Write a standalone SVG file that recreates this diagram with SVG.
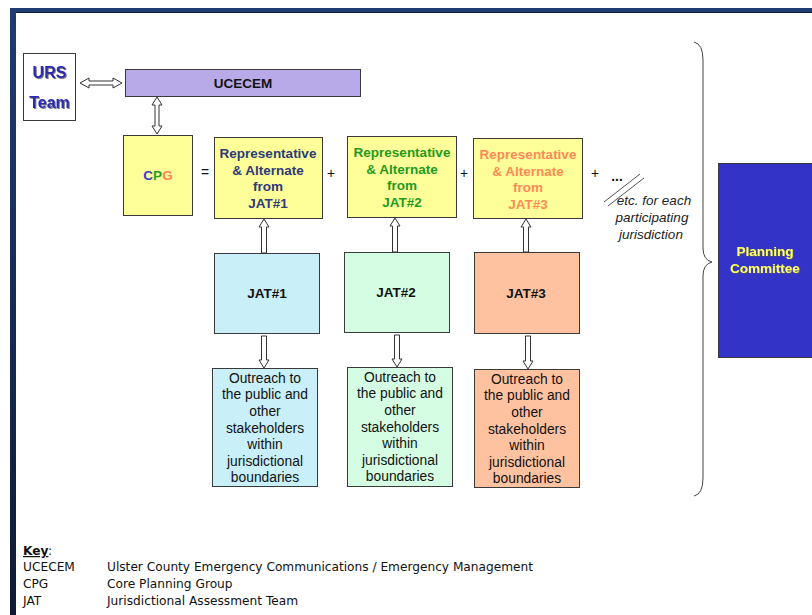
<svg xmlns="http://www.w3.org/2000/svg" width="812" height="615" viewBox="0 0 812 615">
<style>
.box{stroke:#3a3a3a;stroke-width:1}
.b{font-family:"Liberation Sans",Arial,sans-serif;font-weight:bold;font-size:13.5px;text-anchor:middle}
.n{font-family:"Liberation Sans",Arial,sans-serif;font-size:13.8px;text-anchor:middle;fill:#111}
.it{font-family:"Liberation Sans",Arial,sans-serif;font-style:italic;font-size:13.5px;text-anchor:middle;fill:#222}
.k{font-family:"DejaVu Sans",Tahoma,sans-serif;font-size:12.2px;fill:#111}
.arr{fill:#fff;stroke:#333;stroke-width:1}
</style>
<defs>
<filter id="sh" x="-10%" y="-10%" width="130%" height="140%"><feDropShadow dx="1" dy="1" stdDeviation="0.4" flood-color="#555" flood-opacity="0.8"/></filter>
<linearGradient id="lb" x1="0" y1="0" x2="0" y2="1"><stop offset="0" stop-color="#1f3c73"/><stop offset="1" stop-color="#0e1a35"/></linearGradient>
</defs>
<rect width="812" height="615" fill="#fff"/>
<!-- frame -->
<rect x="10" y="8" width="802" height="5" fill="#1f3c73"/>
<line x1="16" y1="12.5" x2="812" y2="12.5" stroke="#0f1f40" stroke-width="1"/>
<rect x="10" y="8" width="6" height="607" fill="url(#lb)"/>

<g id="urs">
<rect class="box" x="23.5" y="53.5" width="52" height="67" fill="#fff"/>
<text class="b" x="49.5" y="78" style="font-size:16px;fill:#2a2ab0" filter="url(#sh)">URS</text>
<text class="b" x="49.5" y="108" style="font-size:16px;fill:#2a2ab0" filter="url(#sh)">Team</text>
</g>
<g id="ucecem">
<rect class="box" x="125.5" y="69.5" width="235" height="27" fill="#b8a9e8"/>
<text class="b" x="243" y="88" fill="#111">UCECEM</text>
</g>
<g id="cpg">
<rect class="box" x="123.5" y="135.5" width="69" height="80" fill="#ffff99"/>
<text class="b" x="158" y="180"><tspan fill="#3a3acc">C</tspan><tspan fill="#2a9a2a">P</tspan><tspan fill="#ff8050">G</tspan></text>
</g>
<g id="rep1">
<rect class="box" x="214.5" y="137.5" width="108" height="81" fill="#ffff99"/>
<text class="b" fill="#2e3a7a"><tspan x="268" y="158">Representative</tspan><tspan x="268" y="175">&amp; Alternate</tspan><tspan x="268" y="191">from</tspan><tspan x="268" y="208">JAT#1</tspan></text>
</g>
<g id="rep2">
<rect class="box" x="347.5" y="136.5" width="109" height="81" fill="#ffff99"/>
<text class="b" fill="#1f9a1f"><tspan x="402" y="157">Representative</tspan><tspan x="402" y="174">&amp; Alternate</tspan><tspan x="402" y="190">from</tspan><tspan x="402" y="207">JAT#2</tspan></text>
</g>
<g id="rep3">
<rect class="box" x="473.5" y="138.5" width="109" height="80" fill="#ffff99"/>
<text class="b" fill="#ff8a55"><tspan x="528" y="159">Representative</tspan><tspan x="528" y="176">&amp; Alternate</tspan><tspan x="528" y="192">from</tspan><tspan x="528" y="209">JAT#3</tspan></text>
</g>
<g id="ops">
<text class="n" x="205" y="177">=</text>
<text class="n" x="331" y="178">+</text>
<text class="n" x="464" y="178">+</text>
<text class="n" x="595" y="178">+</text>
<text class="n" x="617" y="181" style="font-weight:bold">...</text>
<line x1="604" y1="202" x2="640" y2="174" stroke="#555" stroke-width="1"/>
<line x1="608" y1="206" x2="644" y2="178" stroke="#555" stroke-width="1"/>
<text class="it"><tspan x="654" y="205">etc. for each</tspan><tspan x="652" y="222">participating</tspan><tspan x="651" y="239">jurisdiction</tspan></text>
</g>
<g id="jat1">
<rect class="box" x="214.5" y="253.5" width="105" height="80" fill="#c9eff9"/>
<text class="b" x="267" y="298" fill="#111">JAT#1</text>
</g>
<g id="jat2">
<rect class="box" x="344.5" y="252.5" width="105" height="80" fill="#d4fde4"/>
<text class="b" x="396" y="297" fill="#111">JAT#2</text>
</g>
<g id="jat3">
<rect class="box" x="474.5" y="252.5" width="105" height="81" fill="#ffc2a0"/>
<text class="b" x="526" y="298" fill="#111">JAT#3</text>
</g>
<g id="out1">
<rect class="box" x="212.5" y="368.5" width="105" height="118" fill="#c9eff9"/>
<text class="n"><tspan x="265" y="383">Outreach  to</tspan><tspan x="265" y="399">the public and</tspan><tspan x="265" y="416">other</tspan><tspan x="265" y="433">stakeholders</tspan><tspan x="265" y="449">within</tspan><tspan x="265" y="466">jurisdictional</tspan><tspan x="265" y="482">boundaries</tspan></text>
</g>
<g id="out2">
<rect class="box" x="347.5" y="367.5" width="105" height="119" fill="#d4fde4"/>
<text class="n"><tspan x="400" y="382">Outreach  to</tspan><tspan x="400" y="398">the public and</tspan><tspan x="400" y="415">other</tspan><tspan x="400" y="432">stakeholders</tspan><tspan x="400" y="448">within</tspan><tspan x="400" y="465">jurisdictional</tspan><tspan x="400" y="481">boundaries</tspan></text>
</g>
<g id="out3">
<rect class="box" x="474.5" y="369.5" width="105" height="118" fill="#ffc2a0"/>
<text class="n"><tspan x="527" y="384">Outreach  to</tspan><tspan x="527" y="400">the public and</tspan><tspan x="527" y="417">other</tspan><tspan x="527" y="434">stakeholders</tspan><tspan x="527" y="450">within</tspan><tspan x="527" y="467">jurisdictional</tspan><tspan x="527" y="483">boundaries</tspan></text>
</g>
<g id="planning">
<rect class="box" x="718.5" y="163.5" width="100" height="194" fill="#3333c8"/>
<text class="b" fill="#ffff66" filter="url(#sh)"><tspan x="765" y="256">Planning</tspan><tspan x="765" y="273">Committee</tspan></text>
</g>
<g id="connectors">
<path class="arr" d="M80,83 L89,78 L89,81 L113,81 L113,78 L122,83 L113,88 L113,85 L89,85 L89,88 Z"/>
<path class="arr" d="M157,97 L162,105 L159,105 L159,126 L162,126 L157,134 L152,126 L155,126 L155,105 L152,105 Z"/>
<path class="arr" d="M264,219 L269,227 L266.5,227 L266.5,253 L261.5,253 L261.5,227 L259,227 Z"/>
<path class="arr" d="M395,218 L400,226 L397.5,226 L397.5,252 L392.5,252 L392.5,226 L390,226 Z"/>
<path class="arr" d="M526,219 L531,227 L528.5,227 L528.5,252 L523.5,252 L523.5,227 L521,227 Z"/>
<path class="arr" d="M261.5,336 L266.5,336 L266.5,360 L269,360 L264,368 L259,360 L261.5,360 Z"/>
<path class="arr" d="M394.5,335 L399.5,335 L399.5,359 L402,359 L397,367 L392,359 L394.5,359 Z"/>
<path class="arr" d="M525.5,336 L530.5,336 L530.5,361 L533,361 L528,369 L523,361 L525.5,361 Z"/>
<path d="M694,42 Q703,44 703,60 L703,248 Q703,260 712,262 Q703,264 703,276 L703,478 Q703,494 694,496" fill="none" stroke="#444" stroke-width="1"/>
</g>
<g id="key">
<text class="k" x="23" y="555" style="font-weight:bold;text-decoration:underline">Key</text>
<text class="k" x="48" y="555">:</text>
<text class="k" x="23" y="571">UCECEM</text>
<text class="k" x="107" y="571" textLength="426" lengthAdjust="spacingAndGlyphs">Ulster County Emergency Communications / Emergency Management</text>
<text class="k" x="23" y="588">CPG</text>
<text class="k" x="107" y="588">Core Planning Group</text>
<text class="k" x="23" y="605">JAT</text>
<text class="k" x="107" y="605">Jurisdictional Assessment Team</text>
</g>
</svg>
